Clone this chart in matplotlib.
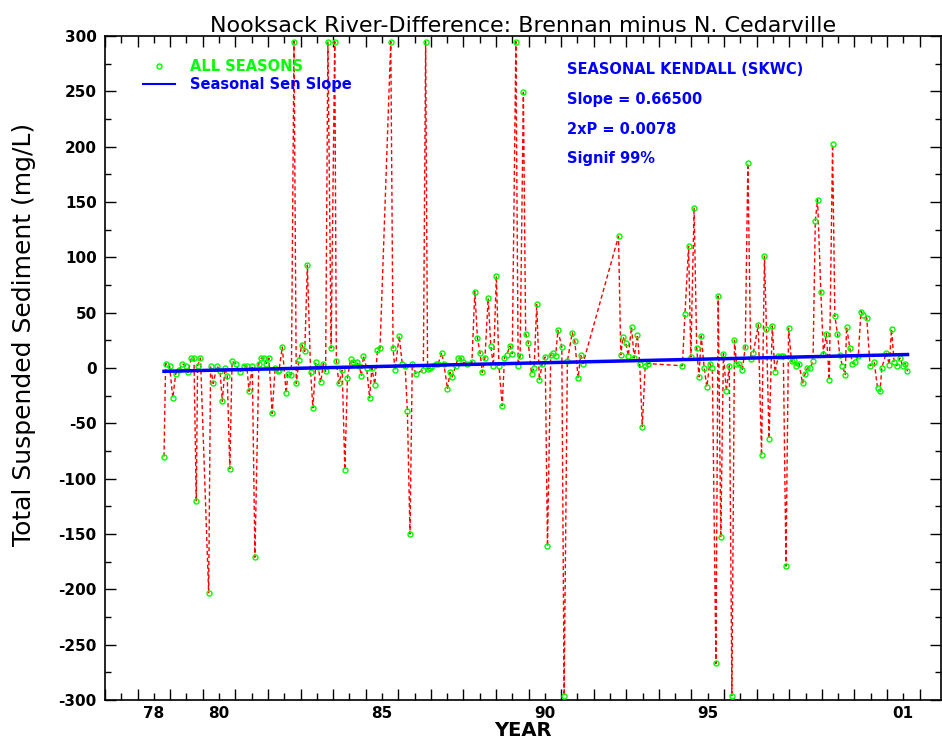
import numpy as np
import matplotlib
matplotlib.use('Agg')
import matplotlib.pyplot as plt
from matplotlib.lines import Line2D

plt.rcParams['axes.unicode_minus'] = False

# Brennan minus N. Cedarville, TSS difference (mg/L); spikes are clipped at the plot edge
years = [
    1978.81, 1978.86, 1978.98, 1979.08, 1979.17, 1979.27, 1979.37, 1979.47, 1979.55, 1979.65,
    1979.73, 1979.80, 1979.84, 1979.93, 1980.18, 1980.24, 1980.32, 1980.44, 1980.53, 1980.60,
    1980.68, 1980.75, 1980.83, 1980.90, 1981.01, 1981.13, 1981.26, 1981.35, 1981.42, 1981.52,
    1981.60, 1981.72, 1981.80, 1981.88, 1981.95, 1982.03, 1982.13, 1982.22, 1982.30,
    1982.34, 1982.44, 1982.56, 1982.61, 1982.72, 1982.80, 1982.87, 1982.95, 1983.04, 1983.13,
    1983.21, 1983.31, 1983.38, 1983.47, 1983.54, 1983.62, 1983.70, 1983.77, 1983.84, 1983.94,
    1984.05, 1984.10, 1984.18, 1984.28, 1984.36, 1984.44, 1984.54, 1984.62, 1984.72, 1984.80,
    1984.87, 1984.93, 1985.03, 1985.12, 1985.19, 1985.28, 1985.36, 1985.44, 1985.77, 1985.84,
    1985.90, 1986.03,
    1986.12, 1986.21, 1986.28, 1986.36, 1986.43, 1986.54, 1986.77, 1986.84, 1986.90, 1986.97,
    1987.05, 1987.15, 1987.23, 1987.33, 1987.40, 1987.51, 1987.59, 1987.66, 1987.76, 1987.84,
    1987.92, 1987.99, 1988.12, 1988.26, 1988.35, 1988.43, 1988.51, 1988.58, 1988.66, 1988.76,
    1988.84, 1988.92, 1989.01, 1989.09, 1989.19, 1989.26, 1989.33, 1989.43, 1989.50, 1989.61,
    1989.68, 1989.74, 1989.84, 1989.91, 1989.99,
    1990.09, 1990.17, 1990.25, 1990.33, 1990.42, 1990.51, 1990.58, 1990.68, 1990.76, 1990.83,
    1990.90, 1991.02, 1991.09, 1991.19, 1991.34, 1991.42, 1991.52, 1991.60, 1991.67,
    1992.76, 1992.83, 1992.90, 1992.98, 1993.06, 1993.16, 1993.24, 1993.34, 1993.41, 1993.49,
    1993.58, 1993.67,
    1994.72, 1994.80, 1994.91, 1994.98, 1995.08, 1995.16, 1995.23, 1995.30, 1995.39, 1995.47,
    1995.56, 1995.64, 1995.75, 1995.82, 1995.90, 1995.98, 1996.07, 1996.16, 1996.24, 1996.32,
    1996.38, 1996.46, 1996.56, 1996.65, 1996.73, 1996.82, 1996.90, 1997.05, 1997.15, 1997.24,
    1997.30, 1997.38, 1997.48, 1997.56, 1997.67,
    1997.74, 1997.82, 1997.90, 1997.98, 1998.07, 1998.15, 1998.22, 1998.30, 1998.41, 1998.49,
    1998.56, 1998.64, 1998.73, 1998.80, 1998.87, 1998.97, 1999.05, 1999.14, 1999.23, 1999.33,
    1999.40, 1999.48, 1999.55, 1999.63, 1999.72, 1999.76, 1999.86, 1999.94, 2000.01, 2000.12,
    2000.20, 2000.27, 2000.38, 2000.48, 2000.61, 2000.71, 2000.79, 2000.84, 2000.98, 2001.07,
    2001.14, 2001.22, 2001.30, 2001.40, 2001.48, 2001.56, 2001.63,
]
tss_diff = [
    -80, 4, 2, -27, -5, -2, 4, 2, -4, 9,
    9, -120, 2, 9, -203, 2, -14, 2, -3, -30,
    0, -7, -91, 6, 4, -4, 2, 2, -21, 2,
    -171, 4, 9, 9, 4, 9, -41, 0, -3,
    -2, 19, -23, -5, -6, 295, -14, 7, 21, 15,
    93, -4, -36, 5, 1, -13, 4, -3, 295, 18,
    295, 6, -14, -2, -92, -9, 8, 5, 5, 2,
    -7, 11, 0, -27, 0, -15, 16, 18, 295, 18,
    -2, 29,
    4, 2, -39, -150, 4, -5, -2, 295, -1, 0,
    2, 4, 4, 14, 4, -19, -4, -8, 2, 9,
    9, 5, 4, 5, 69, 27, 14, -4, 9, 63,
    20, 2, 83, 2, -34, 9, 12, 20, 13, 295,
    2, 11, 249, 31, 23,
    -5, 0, 58, -11, 4, 10, -161, 12, 14, 11,
    34, 19, -296, 6, 32, 24, -9, 12, 4,
    119, 12, 28, 23, 11, 37, 9, 30, 4, -53,
    2, 4,
    2, 49, 110, 10, 145, 18, -8, 29, 0, -17,
    4, 0, -267, 65, -153, 13, -21, 2, -296, 25,
    4, 4, -2, 19, 185, 8, 14, 39, -79, 101,
    35, -64, 38, -4, 11,
    11, 11, -179, 36, 6, 7, 2, 4, -14, -5,
    0, 0, 6, 133, 152, 69, 13, 31, -11, 202,
    47, 31, 12, 2, -6, 37, 18, 4, 5, 11,
    51, 48, 45, 2, 5, -18, -21, 0, 14, 3,
    35, 5, 2, 9, 2, 4, -3,
]

sen_slope = 0.665        # mg/L per year
sen_start = -3.0         # trend value at first sample
stats_lines = ['SEASONAL KENDALL (SKWC)', 'Slope = 0.66500', '2xP = 0.0078', 'Signif 99%']

year_ticks = np.arange(1977, 2003)
label_years = {1978: '78', 1980: '80', 1985: '85', 1990: '90', 1995: '95', 2001: '01'}

fig = plt.figure(figsize=(9.42, 7.46), dpi=100)
ax = fig.add_axes([0.1115, 0.0617, 0.8875, 0.89])

ax.plot(years, tss_diff, color='#ff0000', ls=(0, (3, 2)), lw=1.0, zorder=2)
ax.plot(years, tss_diff, ls='none', marker='o', ms=3.6, mfc='none', mec='#00ff00', mew=1.0, zorder=3)

t = np.array([years[0], years[-1]])
ax.plot(t, sen_start + sen_slope * (t - years[0]), color='#0000ff', lw=2.5, zorder=4)

ax.set_xlim(1977, 2002.66)
ax.set_ylim(-300, 300)

ax.set_yticks(np.arange(-300, 301, 50))
ax.set_yticks(np.arange(-300, 301, 25), minor=True)
ax.set_xticks(year_ticks, labels=[''] * len(year_ticks))
half = year_ticks[:-1] + 0.5
ax.set_xticks(half, labels=[label_years.get(int(h), '') for h in half], minor=True)
ax.tick_params(which='both', direction='in', top=True, right=True, width=1.0,
               labelsize=11, pad=6)
ax.tick_params(which='major', length=8)
ax.tick_params(which='minor', length=4)
ax.tick_params(axis='x', which='minor', length=5, pad=4)
for lab in ax.get_xticklabels(minor=True) + ax.get_yticklabels():
    lab.set_fontweight('bold')

ax.set_title('Nooksack River-Difference: Brennan minus N. Cedarville', fontsize=16, pad=3)
ax.set_xlabel('YEAR', fontsize=14, fontweight='bold', labelpad=0)
ax.set_ylabel('Total Suspended Sediment (mg/L)', fontsize=18)
ax.yaxis.set_label_coords(-0.082, 0.55)

for s in ax.spines.values():
    s.set_linewidth(1.2)

handles = [
    Line2D([], [], ls='none', marker='o', ms=3.6, mfc='none', mec='#00ff00', mew=1.0),
    Line2D([], [], color='#0000ff', lw=1.5),
]
ax.legend(handles, ['ALL SEASONS', 'Seasonal Sen Slope'], loc='upper left',
          bbox_to_anchor=(0.03, 0.985), frameon=False, handlelength=2.2, handletextpad=1.0,
          labelspacing=0.2, labelcolor=['#00ff00', '#0000ff'],
          prop={'weight': 'bold', 'size': 10.5})

for i, line in enumerate(stats_lines):
    ax.text(0.552, 0.949 - i * 0.0447, line, transform=ax.transAxes, color='#0000ff',
            fontsize=10.5, fontweight='bold', va='center')

fig.savefig('out.png', dpi=100)
